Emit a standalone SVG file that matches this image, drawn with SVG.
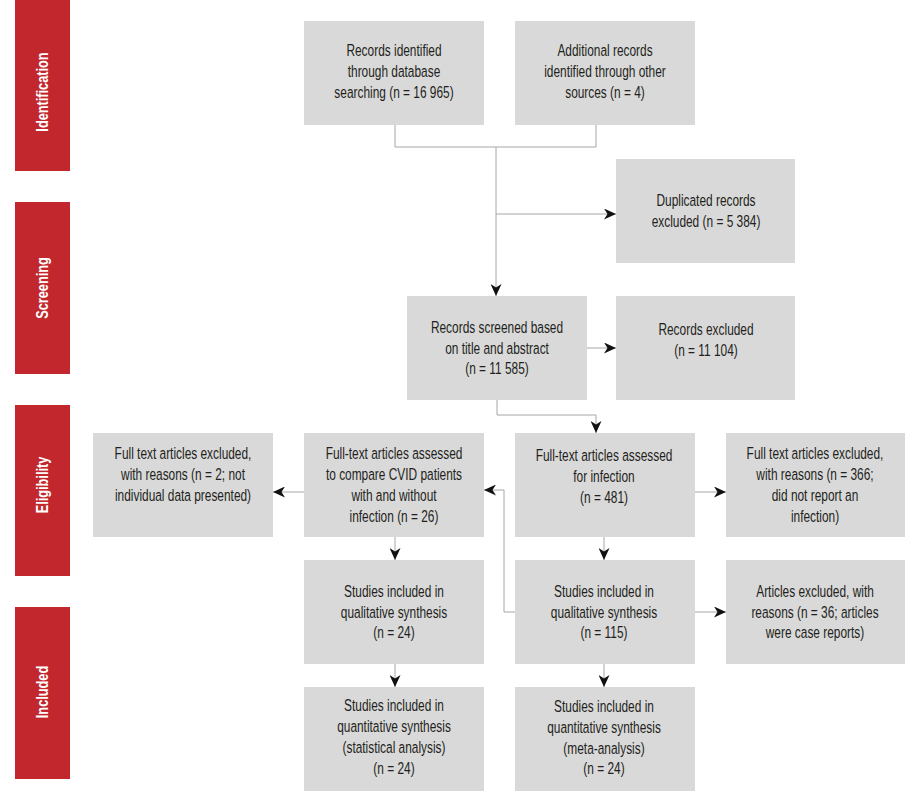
<svg xmlns="http://www.w3.org/2000/svg" width="920" height="791" viewBox="0 0 920 791">
<style>
.bar{fill:#c1272d}
.box{fill:#d9d9d9}
.lbl{font-family:"Liberation Sans",Arial,sans-serif;font-weight:bold;font-size:17px;fill:#ffffff;text-anchor:middle}
.t{font-family:"Liberation Sans",Arial,sans-serif;font-size:17px;fill:#231f20;text-anchor:middle}
.c{fill:none;stroke:#a6a6a6;stroke-width:1}
</style>
<defs>
<marker id="ah" markerUnits="userSpaceOnUse" markerWidth="13" markerHeight="11" refX="12" refY="5.5" orient="auto">
<path d="M0,0 L12,5.5 L0,11 L3.5,5.5 Z" fill="#111"/>
</marker>
</defs>
<rect width="920" height="791" fill="#ffffff"/>
<g id="stage-identification">
<rect class="bar" x="15" y="0" width="55" height="171"/>
<text class="lbl" transform="translate(48,92) rotate(-90) scale(0.75,1)">Identification</text>
</g>
<g id="stage-screening">
<rect class="bar" x="15" y="202" width="55" height="172"/>
<text class="lbl" transform="translate(48,288) rotate(-90) scale(0.75,1)">Screening</text>
</g>
<g id="stage-eligibility">
<rect class="bar" x="15" y="405" width="55" height="171"/>
<text class="lbl" transform="translate(48,485) rotate(-90) scale(0.75,1)">Eligibility</text>
</g>
<g id="stage-included">
<rect class="bar" x="15" y="607" width="55" height="172"/>
<text class="lbl" transform="translate(48,692) rotate(-90) scale(0.75,1)">Included</text>
</g>

<g id="n-database">
<rect class="box" x="304" y="21" width="180" height="104"/>
<g transform="translate(394,0) scale(0.7,1)">
<text class="t" x="0" y="56">Records identified</text>
<text class="t" x="0" y="77">through database</text>
<text class="t" x="0" y="98">searching (n = 16 965)</text>
</g>
</g>
<g id="n-other">
<rect class="box" x="515" y="21" width="180" height="104"/>
<g transform="translate(605,0) scale(0.7,1)">
<text class="t" x="0" y="56">Additional records</text>
<text class="t" x="0" y="77">identified through other</text>
<text class="t" x="0" y="98">sources (n = 4)</text>
</g>
</g>
<g id="n-duplicates">
<rect class="box" x="616" y="159" width="179" height="104"/>
<g transform="translate(706,0) scale(0.7,1)">
<text class="t" x="0" y="206">Duplicated records</text>
<text class="t" x="0" y="227">excluded (n = 5 384)</text>
</g>
</g>
<g id="n-screened">
<rect class="box" x="407" y="296" width="180" height="104"/>
<g transform="translate(497,0) scale(0.7,1)">
<text class="t" x="0" y="333">Records screened based</text>
<text class="t" x="0" y="354">on title and abstract</text>
<text class="t" x="0" y="374">(n = 11 585)</text>
</g>
</g>
<g id="n-excluded">
<rect class="box" x="616" y="296" width="179" height="104"/>
<g transform="translate(706,0) scale(0.7,1)">
<text class="t" x="0" y="335">Records excluded</text>
<text class="t" x="0" y="356">(n = 11 104)</text>
</g>
</g>
<g id="n-excl-left">
<rect class="box" x="93" y="433" width="180" height="104"/>
<g transform="translate(183,0) scale(0.7,1)">
<text class="t" x="0" y="459">Full text articles excluded,</text>
<text class="t" x="0" y="480">with reasons (n = 2; not</text>
<text class="t" x="0" y="501">individual data presented)</text>
</g>
</g>
<g id="n-cvid">
<rect class="box" x="304" y="433" width="180" height="104"/>
<g transform="translate(394,0) scale(0.7,1)">
<text class="t" x="0" y="459">Full-text articles assessed</text>
<text class="t" x="0" y="480">to compare CVID patients</text>
<text class="t" x="0" y="501">with and without</text>
<text class="t" x="0" y="522">infection (n = 26)</text>
</g>
</g>
<g id="n-infection">
<rect class="box" x="515" y="433" width="180" height="104"/>
<g transform="translate(604,0) scale(0.7,1)">
<text class="t" x="0" y="461">Full-text articles assessed</text>
<text class="t" x="0" y="482">for infection</text>
<text class="t" x="0" y="503">(n = 481)</text>
</g>
</g>
<g id="n-excl-right">
<rect class="box" x="726" y="433" width="179" height="104"/>
<g transform="translate(815,0) scale(0.7,1)">
<text class="t" x="0" y="459">Full text articles excluded,</text>
<text class="t" x="0" y="480">with reasons (n = 366;</text>
<text class="t" x="0" y="501">did not report an</text>
<text class="t" x="0" y="522">infection)</text>
</g>
</g>
<g id="n-qual24">
<rect class="box" x="304" y="560" width="180" height="104"/>
<g transform="translate(394,0) scale(0.7,1)">
<text class="t" x="0" y="597">Studies included in</text>
<text class="t" x="0" y="618">qualitative synthesis</text>
<text class="t" x="0" y="638">(n = 24)</text>
</g>
</g>
<g id="n-qual115">
<rect class="box" x="515" y="560" width="180" height="104"/>
<g transform="translate(604,0) scale(0.7,1)">
<text class="t" x="0" y="597">Studies included in</text>
<text class="t" x="0" y="618">qualitative synthesis</text>
<text class="t" x="0" y="638">(n = 115)</text>
</g>
</g>
<g id="n-case">
<rect class="box" x="726" y="560" width="179" height="104"/>
<g transform="translate(815,0) scale(0.7,1)">
<text class="t" x="0" y="597">Articles excluded, with</text>
<text class="t" x="0" y="618">reasons (n = 36; articles</text>
<text class="t" x="0" y="638">were case reports)</text>
</g>
</g>
<g id="n-quant-stat">
<rect class="box" x="304" y="687" width="180" height="104"/>
<g transform="translate(394,0) scale(0.7,1)">
<text class="t" x="0" y="711">Studies included in</text>
<text class="t" x="0" y="732">quantitative synthesis</text>
<text class="t" x="0" y="753">(statistical analysis)</text>
<text class="t" x="0" y="774">(n = 24)</text>
</g>
</g>
<g id="n-quant-meta">
<rect class="box" x="515" y="687" width="180" height="104"/>
<g transform="translate(604,0) scale(0.7,1)">
<text class="t" x="0" y="712">Studies included in</text>
<text class="t" x="0" y="733">quantitative synthesis</text>
<text class="t" x="0" y="754">(meta-analysis)</text>
<text class="t" x="0" y="774">(n = 24)</text>
</g>
</g>

<g id="connectors">
<path class="c" d="M395,125 V147 H596 V125"/>
<path class="c" d="M496,147 V296" marker-end="url(#ah)"/>
<path class="c" d="M496,214 H616" marker-end="url(#ah)"/>
<path class="c" d="M587,348 H616" marker-end="url(#ah)"/>
<path class="c" d="M497,400 V415 H596 V433" marker-end="url(#ah)"/>
<path class="c" d="M304,492 H273" marker-end="url(#ah)"/>
<path class="c" d="M695,492 H726" marker-end="url(#ah)"/>
<path class="c" d="M395,537 V560" marker-end="url(#ah)"/>
<path class="c" d="M604,537 V560" marker-end="url(#ah)"/>
<path class="c" d="M395,664 V687" marker-end="url(#ah)"/>
<path class="c" d="M604,664 V687" marker-end="url(#ah)"/>
<path class="c" d="M695,612 H726" marker-end="url(#ah)"/>
<path class="c" d="M515,612 H504 V490 H484" marker-end="url(#ah)"/>
</g>
</svg>
